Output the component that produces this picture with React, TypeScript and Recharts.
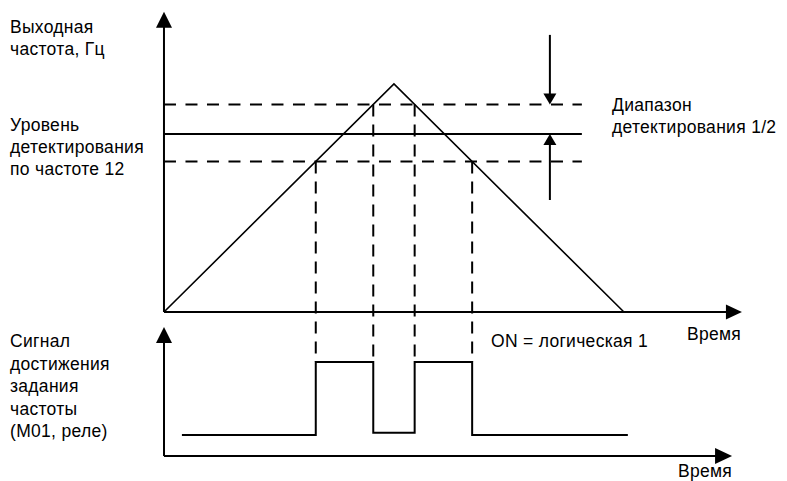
import { ComposedChart, Line, XAxis, YAxis, ReferenceDot } from "recharts";

const W = 787;
const H = 481;

// time in arbitrary units, output frequency in % of peak, relay signal 0/1
const rampTime = [0, 100, 200];
const rampFreq = [0, 100, 0];
const detectLevel = 78;
const bandHigh = 91;
const bandLow = 66;
const bandEnd = 181.7;
const crossTimes = [66, 91, 109, 134];
const crossLevels = [bandLow, bandHigh, bandHigh, bandLow];
const signalTime = [7.8, 66, 91, 109, 134, 201.7];
const signalState = [0, 1, 0.03, 1, 0, 0];
const rangeArrowTime = 167.8;

const T_DOMAIN: [number, number] = [-71.3, 270.9];
const F_DOMAIN: [number, number] = [-74.1, 136.8];
const S_DOMAIN: [number, number] = [-0.63, 5.96];
const SIG_AXIS = -0.288;

// signal value -> frequency units (both share the same pixel column)
const sigToFreq = (s: number) => {
  const frac = (S_DOMAIN[1] - s) / (S_DOMAIN[1] - S_DOMAIN[0]);
  return F_DOMAIN[1] - frac * (F_DOMAIN[1] - F_DOMAIN[0]);
};

const ramp = rampTime.map((t, i) => ({ t, f: rampFreq[i] }));
const signal = signalTime.map((t, i) => ({ t, s: signalState[i] }));
const level = [{ t: 0, f: detectLevel }, { t: bandEnd, f: detectLevel }];
const upper = [{ t: 0, f: bandHigh }, { t: bandEnd, f: bandHigh }];
const lower = [{ t: 0, f: bandLow }, { t: bandEnd, f: bandLow }];
const drops = crossTimes.map((t, i) => [
  { t, f: crossLevels[i] },
  { t, f: sigToFreq(1) },
]);

const arrow = (dir: "up" | "down" | "right", len: number, half: number) =>
  (p: { cx?: number; cy?: number }) => {
    const x = p.cx ?? 0;
    const y = p.cy ?? 0;
    let pts = "";
    if (dir === "up") pts = `${x},${y} ${x - half},${y + len} ${x + half},${y + len}`;
    if (dir === "down") pts = `${x},${y} ${x - half},${y - len} ${x + half},${y - len}`;
    if (dir === "right") pts = `${x},${y} ${x - len},${y - half} ${x - len},${y + half}`;
    return <polygon points={pts} fill="#000" />;
  };

const font = {
  fontFamily: "'Liberation Sans', Arial, sans-serif",
  fontSize: 17.5,
  letterSpacing: 0.3,
  fill: "#000",
};

function Labels() {
  const lines: [number, number, string][] = [
    [10, 33, "Выходная"],
    [10, 55, "частота, Гц"],
    [10, 130.5, "Уровень"],
    [10, 152.5, "детектирования"],
    [10, 175, "по частоте 12"],
    [612, 111, "Диапазон"],
    [612, 133, "детектирования 1/2"],
    [10, 347, "Сигнал"],
    [10, 369.5, "достижения"],
    [10, 392, "задания"],
    [10, 414.5, "частоты"],
    [10, 437, "(М01, реле)"],
    [491, 346.5, "ON = логическая 1"],
    [687, 340, "Время"],
    [678, 477, "Время"],
  ];
  return (
    <svg width={W} height={H} style={{ position: "absolute", left: 0, top: 0, pointerEvents: "none" }}>
      {lines.map(([x, y, s], i) => (
        <text key={i} x={x} y={y} {...font}>{s}</text>
      ))}
    </svg>
  );
}

export default function App() {
  const solid = {
    stroke: "#000",
    dot: false,
    activeDot: false,
    legendType: "none" as const,
    isAnimationActive: false,
    type: "linear" as const,
  };
  return (
    <div style={{ position: "absolute", left: 0, top: 0, width: W, height: H, background: "#fff" }}>
      <ComposedChart width={W} height={H} margin={{ top: 0, right: 0, bottom: 0, left: 0 }} accessibilityLayer={false}>
        <XAxis dataKey="t" type="number" domain={T_DOMAIN} allowDataOverflow hide />
        <YAxis yAxisId="f" type="number" domain={F_DOMAIN} allowDataOverflow hide />
        <YAxis yAxisId="s" type="number" domain={S_DOMAIN} allowDataOverflow hide />

        {/* frequency panel axes */}
        <Line {...solid} dot={false} yAxisId="f" data={[{ t: 0, f: 0 }, { t: 0, f: 128 }]} dataKey="f" strokeWidth={2} />
        <Line {...solid} dot={false} yAxisId="f" data={[{ t: 0, f: 0 }, { t: 245, f: 0 }]} dataKey="f" strokeWidth={2} />
        <ReferenceDot yAxisId="f" x={0} y={131.6} shape={arrow("up", 16, 8)} />
        <ReferenceDot yAxisId="f" x={251.3} y={0} shape={arrow("right", 16, 7.5)} />

        {/* detection band */}
        <Line {...solid} dot={false} yAxisId="f" data={upper} dataKey="f" strokeWidth={2} strokeDasharray="12 9.5" />
        <Line {...solid} dot={false} yAxisId="f" data={lower} dataKey="f" strokeWidth={2} strokeDasharray="12 9.5" />
        <Line {...solid} dot={false} yAxisId="f" data={level} dataKey="f" strokeWidth={2} />
        {drops.map((d, i) => (
          <Line key={i} {...solid} dot={false} yAxisId="f" data={d} dataKey="f" strokeWidth={2} strokeDasharray="12 8" />
        ))}

        {/* output frequency */}
        <Line {...solid} dot={false} yAxisId="f" data={ramp} dataKey="f" strokeWidth={1.6} />

        {/* detection range arrows */}
        <Line {...solid} dot={false} yAxisId="f" data={[{ t: rangeArrowTime, f: 121.5 }, { t: rangeArrowTime, f: 95 }]} dataKey="f" strokeWidth={2} />
        <ReferenceDot yAxisId="f" x={rangeArrowTime} y={bandHigh} shape={arrow("down", 11, 6.5)} />
        <Line {...solid} dot={false} yAxisId="f" data={[{ t: rangeArrowTime, f: 49.1 }, { t: rangeArrowTime, f: 74 }]} dataKey="f" strokeWidth={2} />
        <ReferenceDot yAxisId="f" x={rangeArrowTime} y={detectLevel} shape={arrow("up", 11, 6.5)} />

        {/* signal panel axes */}
        <Line {...solid} dot={false} yAxisId="s" data={[{ t: 0, s: SIG_AXIS }, { t: 0, s: 1.3 }]} dataKey="s" strokeWidth={2} />
        <Line {...solid} dot={false} yAxisId="s" data={[{ t: 0, s: SIG_AXIS }, { t: 240, s: SIG_AXIS }]} dataKey="s" strokeWidth={2} />
        <ReferenceDot yAxisId="s" x={0} y={1.48} shape={arrow("up", 16, 8)} />
        <ReferenceDot yAxisId="s" x={247} y={SIG_AXIS} shape={arrow("right", 17, 8)} />

        {/* relay signal */}
        <Line {...solid} dot={false} type="stepAfter" yAxisId="s" data={signal} dataKey="s" strokeWidth={2} />
      </ComposedChart>
      <Labels />
    </div>
  );
}
